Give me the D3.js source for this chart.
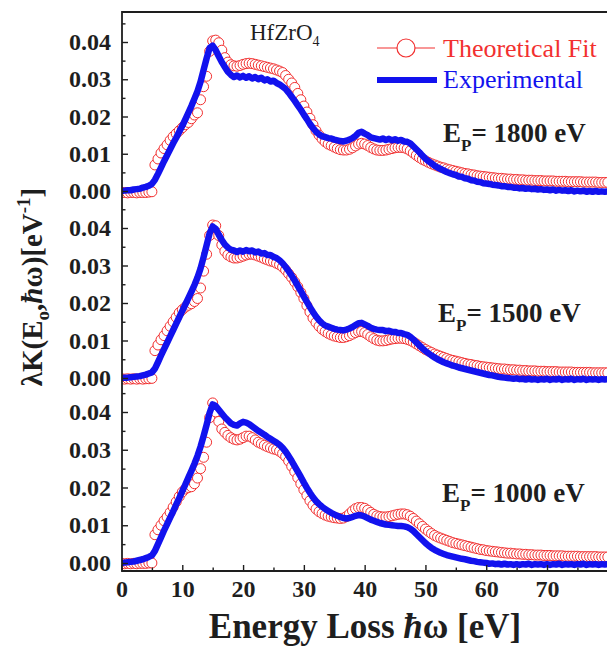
<!DOCTYPE html>
<html>
<head>
<meta charset="utf-8">
<script src="https://cdn.jsdelivr.net/npm/d3@7"></script>
<style>
  html, body { margin: 0; padding: 0; background: #fff; }
  svg { display: block; }
</style>
</head>
<body>
<svg id="chart" width="607" height="646"></svg>
<script>
// Energy-loss grid (eV), sampled every 0.5 eV from 0 to 80 eV
const energies = d3.range(0, 80.001, 0.5);

// Cross sections below are given in units of 1e-3 eV^-1
const unit = 1e-3;

// Ep = 1800 eV
const theory1800 = [
  -0.4,-0.4,-0.5,-0.4,-0.4,-0.5,-0.4,-0.4,-0.4,-0.3,
  -0.2,7.0,8.6,10.2,11.4,12.4,13.6,14.6,15.4,16.2,
  17.0,17.8,18.4,19.4,20.4,21.0,24.5,28.0,30.8,37.5,
  40.3,40.5,39.8,37.8,35.8,34.6,33.9,33.6,33.5,33.7,
  34.0,34.2,34.3,34.2,34.0,33.8,33.6,33.4,33.2,33.0,
  32.8,32.5,32.2,31.8,31.0,30.0,29.0,27.8,26.2,24.5,
  22.8,21.2,19.5,17.8,16.2,15.0,14.0,13.2,12.6,12.2,
  11.8,11.4,11.1,11.0,11.0,11.2,11.6,12.1,12.6,12.8,
  12.6,12.2,11.7,11.3,11.0,10.9,10.9,11.0,11.2,11.4,
  11.6,11.7,11.7,11.6,11.3,10.8,10.2,9.6,9.0,8.5,
  8.1,7.7,7.3,7.0,6.7,6.4,6.2,5.9,5.7,5.5,
  5.3,5.1,4.9,4.7,4.6,4.4,4.3,4.1,4.0,3.9,
  3.8,3.7,3.6,3.5,3.4,3.4,3.3,3.2,3.2,3.1,
  3.1,3.0,3.0,2.9,2.9,2.9,2.8,2.8,2.8,2.7,
  2.7,2.7,2.7,2.6,2.6,2.6,2.6,2.5,2.5,2.5,
  2.5,2.5,2.4,2.4,2.4,2.4,2.4,2.3,2.3,2.3,
  2.3
];
const experiment1800 = [
  0.0,0.1,0.2,0.2,0.4,0.5,0.6,0.9,1.1,1.4,
  1.9,3.0,4.6,6.3,8.0,9.6,11.2,12.8,14.3,15.9,
  17.5,19.2,21.0,22.8,24.8,26.8,29.3,32.5,35.6,38.4,
  39.0,37.8,36.2,34.6,33.3,32.0,31.2,30.6,31.0,30.5,
  30.9,30.4,30.8,30.2,30.6,30.0,30.4,29.7,30.0,29.4,
  29.6,29.0,28.6,28.0,27.4,26.4,25.3,24.2,23.0,21.8,
  20.5,19.3,18.0,16.9,15.9,15.2,14.7,14.5,14.2,14.1,
  13.8,13.6,13.4,13.3,13.5,13.8,14.2,14.8,15.6,15.9,
  15.4,15.0,14.4,14.2,14.0,13.8,14.1,13.7,14.0,13.6,
  13.9,13.5,13.7,13.3,13.2,12.8,12.0,11.2,10.4,9.5,
  8.7,8.0,7.4,6.8,6.3,5.9,5.5,5.1,4.8,4.5,
  4.3,3.9,3.8,3.4,3.3,2.9,2.8,2.5,2.4,2.1,
  2.0,1.9,1.7,1.6,1.5,1.3,1.3,1.1,1.1,0.9,
  0.9,0.7,0.8,0.6,0.7,0.5,0.6,0.4,0.5,0.3,
  0.4,0.2,0.4,0.1,0.3,0.1,0.2,0.0,0.2,-0.1,
  0.1,-0.1,0.1,-0.2,0.0,-0.2,0.0,-0.2,-0.1,-0.2,
  -0.1
];

// Ep = 1500 eV
const theory1500 = [
  -0.2,-0.3,-0.2,-0.3,-0.2,-0.3,-0.2,-0.3,-0.2,-0.2,
  -0.1,7.3,8.8,10.2,11.3,12.6,13.8,15.0,16.2,17.4,
  18.2,18.9,19.4,19.8,20.4,21.2,24.0,28.5,33.0,38.0,
  40.8,40.6,38.0,35.5,33.8,32.8,32.3,32.0,32.0,32.2,
  32.5,32.8,33.0,33.0,32.8,32.5,32.2,31.8,31.5,31.2,
  31.0,30.6,30.2,29.6,28.8,27.8,26.8,25.6,24.3,22.8,
  21.2,19.3,17.6,16.0,14.8,13.8,13.0,12.4,11.9,11.5,
  11.2,11.0,10.8,10.8,11.0,11.3,11.7,12.1,12.4,12.4,
  12.1,11.6,11.0,10.5,10.1,9.9,9.9,10.0,10.2,10.4,
  10.5,10.6,10.6,10.5,10.3,10.0,9.6,9.1,8.6,8.1,
  7.6,7.2,6.8,6.4,6.1,5.8,5.5,5.2,4.9,4.7,
  4.5,4.3,4.1,3.9,3.7,3.6,3.4,3.3,3.1,3.0,
  2.9,2.8,2.7,2.6,2.5,2.4,2.4,2.3,2.2,2.2,
  2.1,2.1,2.0,2.0,1.9,1.9,1.9,1.8,1.8,1.8,
  1.7,1.7,1.7,1.7,1.6,1.6,1.6,1.6,1.6,1.5,
  1.5,1.5,1.5,1.5,1.5,1.4,1.4,1.4,1.4,1.4,
  1.4
];
const experiment1500 = [
  0.0,0.1,0.1,0.2,0.3,0.4,0.5,0.7,0.9,1.2,
  1.5,2.5,4.2,6.0,7.7,9.4,11.1,12.8,14.5,16.2,
  17.9,19.6,21.3,23.0,24.8,26.8,29.2,32.2,35.4,38.6,
  40.4,39.8,38.2,36.8,35.6,34.8,34.2,34.0,33.6,34.0,
  33.7,34.1,33.8,34.0,33.5,33.7,33.2,33.3,32.8,32.8,
  32.3,32.0,31.4,30.6,29.6,28.5,27.3,26.0,24.6,23.2,
  21.7,20.3,18.9,17.6,16.4,15.4,14.6,14.0,13.7,13.4,
  13.1,12.9,12.8,12.7,12.9,13.2,13.6,14.1,14.6,14.7,
  14.3,13.9,13.4,13.1,12.9,12.8,12.8,12.5,12.6,12.3,
  12.3,12.0,12.0,11.7,11.5,11.0,10.3,9.5,8.7,7.9,
  7.2,6.6,6.0,5.5,5.0,4.6,4.2,3.9,3.6,3.3,
  3.1,2.8,2.6,2.4,2.2,2.0,1.8,1.6,1.4,1.2,
  1.0,0.8,0.7,0.5,0.3,0.2,0.1,0.0,-0.1,-0.2,
  -0.1,-0.3,-0.2,-0.4,-0.2,-0.4,-0.3,-0.5,-0.3,-0.4,
  -0.2,-0.5,-0.3,-0.4,-0.2,-0.5,-0.3,-0.4,-0.2,-0.5,
  -0.3,-0.4,-0.2,-0.5,-0.3,-0.4,-0.3,-0.5,-0.3,-0.4,
  -0.3
];

// Ep = 1000 eV
const theory1000 = [
  -0.1,-0.2,-0.1,-0.2,-0.1,-0.2,-0.1,-0.1,-0.1,0.0,
  0.0,7.5,8.8,10.0,11.2,12.2,13.4,14.8,16.2,17.6,
  18.8,19.6,20.0,20.2,21.0,22.5,25.0,28.0,32.0,38.5,
  42.4,40.0,37.5,35.5,34.6,33.8,33.2,32.8,32.6,32.8,
  33.2,33.6,33.6,33.2,32.6,32.0,31.6,31.2,30.8,30.5,
  30.2,30.0,29.6,29.0,28.2,27.0,25.6,24.2,22.6,21.0,
  19.4,17.9,16.5,15.3,14.3,13.6,13.1,12.7,12.4,12.2,
  12.0,11.9,11.8,11.9,12.3,13.0,13.8,14.4,14.7,14.7,
  14.5,14.0,13.4,12.9,12.5,12.3,12.2,12.2,12.3,12.5,
  12.7,12.9,13.0,13.0,12.8,12.4,11.8,11.1,10.4,9.7,
  9.0,8.4,7.8,7.3,6.9,6.6,6.3,6.0,5.7,5.4,
  5.2,5.0,4.8,4.6,4.4,4.2,4.0,3.8,3.6,3.5,
  3.3,3.2,3.1,3.0,2.9,2.8,2.7,2.6,2.6,2.5,
  2.4,2.4,2.3,2.3,2.2,2.2,2.1,2.1,2.1,2.0,
  2.0,2.0,1.9,1.9,1.9,1.9,1.8,1.8,1.8,1.8,
  1.8,1.7,1.7,1.7,1.7,1.7,1.7,1.6,1.6,1.6,
  1.6
];
const experiment1000 = [
  0.0,0.1,0.2,0.3,0.4,0.6,0.8,1.0,1.3,1.6,
  2.0,3.2,5.0,6.8,8.6,10.3,12.0,13.7,15.5,17.2,
  19.0,20.8,22.6,24.4,26.3,28.4,30.8,33.6,36.6,39.8,
  42.0,41.6,40.6,39.6,38.6,37.8,37.0,36.6,36.4,37.0,
  37.4,37.2,36.8,36.2,35.6,35.0,34.5,34.0,33.4,32.9,
  32.4,31.9,31.3,30.5,29.5,28.3,27.0,25.6,24.2,22.8,
  21.3,19.9,18.6,17.4,16.4,15.6,14.9,14.3,13.8,13.3,
  12.9,12.5,12.2,11.9,11.8,11.9,12.2,12.5,12.7,12.6,
  12.3,11.9,11.5,11.2,10.9,10.6,10.4,10.2,10.1,10.0,
  9.9,9.8,9.8,9.7,9.5,9.1,8.5,7.7,6.9,6.1,
  5.3,4.6,4.0,3.5,3.1,2.7,2.4,2.1,1.9,1.7,
  1.5,1.3,1.1,1.0,0.8,0.6,0.5,0.3,0.2,0.1,
  0.0,-0.2,-0.1,-0.3,-0.2,-0.4,-0.2,-0.4,-0.3,-0.5,
  -0.3,-0.5,-0.3,-0.4,-0.2,-0.5,-0.3,-0.4,-0.3,-0.5,
  -0.3,-0.5,-0.3,-0.4,-0.2,-0.5,-0.3,-0.4,-0.3,-0.5,
  -0.3,-0.4,-0.2,-0.5,-0.3,-0.4,-0.3,-0.5,-0.3,-0.4,
  -0.3
];

const beamEnergies = [1800, 1500, 1000];
const xMajorTicks = [0, 10, 20, 30, 40, 50, 60, 70];
const xMinorTicks = [5, 15, 25, 35, 45, 55, 65, 75];
const yMajorTicks = [0, 0.01, 0.02, 0.03, 0.04];
const yMinorTicks = [0.005, 0.015, 0.025, 0.035, 0.045];

const theorySeries = [theory1800, theory1500, theory1000];
const experimentSeries = [experiment1800, experiment1500, experiment1000];

// ---------- layout ----------
const W = 607, H = 646;
const frame = { left: 122, top: 12, bottom: 571, right: 607.8 };
const panels = [
  { zero: 191, four: 42,  label: [443, 142] },
  { zero: 378, four: 228, label: [438, 322] },
  { zero: 563, four: 412, label: [442, 502] }
];
const serif = "'Liberation Serif', 'Times New Roman', 'DejaVu Serif', serif";
const red = "#f23030";
const blue = "#1212ee";
const ink = "#1e1e1e";

const svg = d3.select("#chart");
svg.append("rect").attr("width", W).attr("height", H).attr("fill", "#fff");

svg.append("defs").append("clipPath").attr("id", "plot-area")
  .append("rect")
  .attr("x", frame.left).attr("y", frame.top)
  .attr("width", frame.right - frame.left)
  .attr("height", frame.bottom - frame.top);

const x = d3.scaleLinear().domain([0, 80]).range([121.5, 607.8]);

function styleAxis(g, size) {
  g.attr("font-family", serif).attr("font-size", size).attr("font-weight", "bold");
  g.selectAll("text").attr("fill", ink);
  g.selectAll("line").attr("stroke", ink).attr("stroke-width", 1.4);
  g.select(".domain").remove();
}

beamEnergies.forEach((ep, p) => {
  const L = panels[p];
  const y = d3.scaleLinear().domain([0, 0.04]).range([L.zero, L.four]);
  const g = svg.append("g").attr("class", "panel");
  const plot = g.append("g").attr("clip-path", "url(#plot-area)");

  // theoretical fit: open circles
  plot.append("g").selectAll("circle")
    .data(energies)
    .join("circle")
    .attr("cx", e => x(e))
    .attr("cy", (e, i) => y(theorySeries[p][i] * unit))
    .attr("r", 5)
    .attr("fill", "#fff")
    .attr("stroke", red)
    .attr("stroke-width", 1);

  // experimental spectrum: thick line
  plot.append("path")
    .datum(energies)
    .attr("d", d3.line().x(e => x(e)).y((e, i) => y(experimentSeries[p][i] * unit)))
    .attr("fill", "none")
    .attr("stroke", blue)
    .attr("stroke-width", 6.5)
    .attr("stroke-linejoin", "round");

  // y axis with inward ticks
  const ya = g.append("g").attr("transform", `translate(${frame.left},0)`)
    .call(d3.axisLeft(y).tickValues(yMajorTicks).tickFormat(d3.format(".2f"))
      .tickSizeInner(-6).tickSizeOuter(0).tickPadding(11));
  styleAxis(ya, 24);
  const ym = g.append("g").attr("transform", `translate(${frame.left},0)`)
    .call(d3.axisLeft(y).tickValues(yMinorTicks).tickFormat("")
      .tickSizeInner(-3.5).tickSizeOuter(0));
  styleAxis(ym, 24);

  // beam energy label
  const t = g.append("text")
    .attr("x", L.label[0]).attr("y", L.label[1])
    .attr("font-family", serif).attr("font-size", 27).attr("font-weight", "bold")
    .attr("fill", ink);
  t.append("tspan").text("E");
  t.append("tspan").attr("font-size", 17).attr("dy", 9).text("P");
  t.append("tspan").attr("dy", -9).text(`= ${ep} eV`);
});

// x axis
const xa = svg.append("g").attr("transform", `translate(0,${frame.bottom})`)
  .call(d3.axisBottom(x).tickValues(xMajorTicks).tickFormat(d3.format("d"))
    .tickSizeInner(-6).tickSizeOuter(0).tickPadding(9));
styleAxis(xa, 24);
const xm = svg.append("g").attr("transform", `translate(0,${frame.bottom})`)
  .call(d3.axisBottom(x).tickValues(xMinorTicks).tickFormat("")
    .tickSizeInner(-3.5).tickSizeOuter(0));
styleAxis(xm, 24);

// frame
svg.append("path")
  .attr("d", `M${frame.right},${frame.top}H${frame.left}V${frame.bottom}H${frame.right}`)
  .attr("fill", "none").attr("stroke", ink).attr("stroke-width", 1.8);

// material label
const mat = svg.append("text").attr("x", 250).attr("y", 40)
  .attr("font-family", serif).attr("font-size", 23).attr("fill", ink);
mat.append("tspan").text("HfZrO");
mat.append("tspan").attr("font-size", 14).attr("dy", 6).text("4");

// legend
const lg = svg.append("g");
lg.append("line").attr("x1", 377).attr("x2", 435).attr("y1", 48).attr("y2", 48)
  .attr("stroke", red).attr("stroke-width", 1.2);
lg.append("circle").attr("cx", 406).attr("cy", 48).attr("r", 9)
  .attr("fill", "#fff").attr("stroke", red).attr("stroke-width", 1.2);
lg.append("text").attr("x", 443).attr("y", 57)
  .attr("font-family", serif).attr("font-size", 26).attr("fill", red)
  .text("Theoretical Fit");
lg.append("line").attr("x1", 377).attr("x2", 437).attr("y1", 80).attr("y2", 80)
  .attr("stroke", blue).attr("stroke-width", 6);
lg.append("text").attr("x", 443).attr("y", 88)
  .attr("font-family", serif).attr("font-size", 26).attr("fill", blue)
  .text("Experimental");

// x title
const xt = svg.append("text").attr("x", 365).attr("y", 638)
  .attr("text-anchor", "middle")
  .attr("font-family", serif).attr("font-size", 35).attr("font-weight", "bold")
  .attr("fill", ink);
xt.append("tspan").text("Energy Loss ");
xt.append("tspan").attr("font-style", "italic").text("ħ");
xt.append("tspan").text("ω [eV]");

// y title
const yt = svg.append("text").attr("transform", "translate(42,287) rotate(-90)")
  .attr("text-anchor", "middle")
  .attr("font-family", serif).attr("font-size", 29).attr("font-weight", "bold")
  .attr("fill", ink);
yt.append("tspan").text("λK(E");
yt.append("tspan").attr("font-size", 19).attr("dy", 7).text("o");
yt.append("tspan").attr("dy", -7).text(",");
yt.append("tspan").attr("font-style", "italic").text("ħ");
yt.append("tspan").text("ω)[eV");
yt.append("tspan").attr("font-size", 19).attr("dy", -12).text("-1");
yt.append("tspan").attr("dy", 12).text("]");
</script>
</body>
</html>
